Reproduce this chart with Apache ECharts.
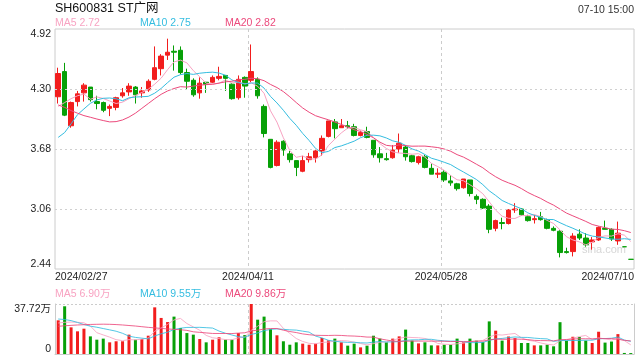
<!DOCTYPE html>
<html><head><meta charset="utf-8">
<script src="https://cdn.jsdelivr.net/npm/echarts@6/dist/echarts.min.js"></script>
<style>html,body{margin:0;padding:0;background:#fff}#c{width:640px;height:360px}</style>
</head><body><div id="c"></div>
<script>
const dates = ['2024/02/27','2024/02/28','2024/02/29','2024/03/01','2024/03/04','2024/03/05','2024/03/06','2024/03/07','2024/03/08','2024/03/11',
'2024/03/12','2024/03/13','2024/03/14','2024/03/15','2024/03/18','2024/03/19','2024/03/20','2024/03/21','2024/03/22','2024/03/25',
'2024/03/26','2024/03/27','2024/03/28','2024/03/29','2024/04/01','2024/04/02','2024/04/03','2024/04/08','2024/04/09','2024/04/10',
'2024/04/11','2024/04/12','2024/04/15','2024/04/16','2024/04/17','2024/04/18','2024/04/19','2024/04/22','2024/04/23','2024/04/24',
'2024/04/25','2024/04/26','2024/04/29','2024/04/30','2024/05/06','2024/05/07','2024/05/08','2024/05/09','2024/05/10','2024/05/13',
'2024/05/14','2024/05/15','2024/05/16','2024/05/17','2024/05/20','2024/05/21','2024/05/22','2024/05/23','2024/05/24','2024/05/27',
'2024/05/28','2024/05/29','2024/05/30','2024/05/31','2024/06/03','2024/06/04','2024/06/05','2024/06/06','2024/06/07','2024/06/11',
'2024/06/12','2024/06/13','2024/06/14','2024/06/17','2024/06/18','2024/06/19','2024/06/20','2024/06/21','2024/06/24','2024/06/25',
'2024/06/26','2024/06/27','2024/06/28','2024/07/01','2024/07/02','2024/07/03','2024/07/04','2024/07/05','2024/07/09','2024/07/10'];

const opens = [4.22,4.48,3.92,4.17,4.26,4.32,4.17,4.16,4.10,4.11, 4.23,4.27,4.32,4.26,4.29,4.40,4.51,4.65,4.69,4.70,
4.47,4.39,4.26,4.37,4.37,4.41,4.44,4.35,4.21,4.42, 4.39,4.40,4.12,3.78,3.51,3.76,3.63,3.56,3.45,3.57,
3.59,3.66,3.81,3.96,3.90,3.92,3.91,3.82,3.86,3.77, 3.63,3.58,3.59,3.68,3.70,3.61,3.54,3.60,3.48,3.42,
3.44,3.35,3.32,3.28,3.36,3.19,3.16,3.09,2.86,2.92, 2.91,3.05,3.06,2.98,2.95,2.98,2.95,2.86,2.83,2.62,
2.62,2.80,2.76,2.72,2.74,2.86,2.85,2.73,2.67,2.54];
const closes = [4.46,4.03,4.16,4.25,4.34,4.19,4.15,4.08,4.12,4.21, 4.26,4.33,4.24,4.28,4.38,4.52,4.64,4.68,4.68,4.47,
4.38,4.24,4.36,4.35,4.42,4.43,4.41,4.20,4.40,4.33, 4.48,4.23,3.84,3.49,3.75,3.67,3.57,3.49,3.56,3.60,
3.66,3.79,3.97,3.89,3.92,3.91,3.82,3.85,3.80,3.62, 3.59,3.57,3.67,3.74,3.60,3.55,3.60,3.49,3.42,3.43,
3.36,3.33,3.27,3.37,3.22,3.16,3.07,2.85,2.94,2.91, 3.05,3.06,3.00,2.94,2.96,2.95,2.86,2.84,2.61,2.61,
2.78,2.76,2.69,2.74,2.87,2.85,2.75,2.81,2.67,2.54];
const lows = [4.15,4.02,3.90,4.12,4.17,4.17,4.09,4.06,4.02,4.08, 4.21,4.23,4.15,4.21,4.27,4.39,4.44,4.60,4.49,4.45,
4.29,4.22,4.20,4.26,4.36,4.39,4.28,4.19,4.19,4.21, 4.37,4.20,3.80,3.48,3.50,3.61,3.54,3.40,3.44,3.54,
3.54,3.61,3.80,3.79,3.90,3.89,3.81,3.81,3.79,3.59, 3.54,3.56,3.58,3.64,3.56,3.54,3.52,3.48,3.42,3.38,
3.34,3.30,3.25,3.27,3.19,3.11,3.06,2.81,2.83,2.85, 2.90,3.02,2.99,2.93,2.91,2.94,2.85,2.83,2.56,2.60,
2.57,2.74,2.67,2.64,2.73,2.85,2.73,2.69,2.67,2.54];
const highs = [4.52,4.57,4.17,4.28,4.36,4.32,4.23,4.17,4.14,4.22, 4.31,4.36,4.33,4.32,4.40,4.74,4.66,4.82,4.75,4.74,
4.51,4.41,4.42,4.37,4.44,4.53,4.44,4.36,4.44,4.43, 4.76,4.42,4.14,3.78,3.77,3.77,3.66,3.56,3.61,3.64,
3.67,3.82,3.97,3.99,3.99,3.97,3.94,3.87,3.91,3.77, 3.70,3.64,3.72,3.84,3.72,3.62,3.61,3.62,3.53,3.48,
3.46,3.41,3.33,3.37,3.36,3.21,3.17,3.11,2.95,2.97, 3.06,3.12,3.07,3.00,3.00,3.03,2.96,2.88,2.84,2.66,
2.81,2.85,2.81,2.77,2.88,2.94,2.86,2.93,2.67,2.54];

const ma5 = [4.12,4.16,4.20,4.23,4.248,4.194,4.218,4.202,4.176,4.150, 4.164,4.200,4.232,4.264,4.298,4.350,4.412,4.500,4.580,4.598,
4.570,4.490,4.426,4.360,4.350,4.360,4.394,4.362,4.372,4.354, 4.364,4.328,4.256,4.074,3.958,3.796,3.664,3.594,3.608,3.578,
3.576,3.620,3.716,3.782,3.846,3.896,3.902,3.878,3.860,3.800, 3.736,3.686,3.650,3.638,3.634,3.626,3.632,3.596,3.532,3.498,
3.460,3.406,3.362,3.352,3.310,3.270,3.218,3.134,3.048,2.986, 2.964,2.962,2.992,2.992,3.002,2.982,2.942,2.910,2.844,2.774,
2.740,2.720,2.690,2.716,2.768,2.782,2.780,2.804,2.790,2.724];
const ma10 = [3.80,3.85,3.94,4.035,4.094,4.152,4.187,4.204,4.207,4.199, 4.179,4.209,4.217,4.220,4.224,4.257,4.306,4.366,4.422,4.448,
4.460,4.451,4.463,4.470,4.474,4.465,4.442,4.394,4.366,4.352, 4.362,4.361,4.309,4.223,4.156,4.080,3.996,3.925,3.841,3.768,
3.686,3.642,3.655,3.695,3.712,3.736,3.761,3.797,3.821,3.823, 3.816,3.794,3.764,3.749,3.717,3.681,3.659,3.623,3.585,3.566,
3.543,3.519,3.479,3.442,3.404,3.365,3.312,3.248,3.200,3.148, 3.117,3.090,3.063,3.020,2.994,2.973,2.952,2.951,2.918,2.888,
2.861,2.831,2.800,2.780,2.771,2.761,2.750,2.747,2.753,2.746];
const ma20 = [4.135,4.11,4.077,4.05,4.025,4.008,3.99,3.974,3.96,3.963, 3.98,4.01,4.05,4.10,4.15,4.20,4.245,4.28,4.305,4.324,
4.320,4.330,4.340,4.345,4.349,4.361,4.374,4.380,4.394,4.400, 4.411,4.406,4.386,4.347,4.315,4.273,4.219,4.160,4.104,4.060,
4.024,4.002,3.982,3.959,3.934,3.908,3.879,3.861,3.831,3.796, 3.751,3.718,3.710,3.722,3.715,3.709,3.710,3.710,3.703,3.695,
3.680,3.657,3.622,3.596,3.561,3.523,3.486,3.436,3.393,3.357, 3.330,3.305,3.271,3.231,3.199,3.169,3.132,3.100,3.059,3.018,
2.989,2.961,2.932,2.900,2.883,2.867,2.851,2.849,2.836,2.817];

// volume in 万
const volumes = [25.4,36.0,20.1,17.1,19.1,13.3,10.8,11.6,8.8,9.6, 9.6,14.6,10.8,11.3,13.8,35.2,27.2,24.1,28.2,19.6,
15.8,14.6,11.3,8.8,10.8,12.6,10.8,10.8,15.8,14.3, 37.72,25.9,28.2,18.9,14.1,9.6,7.0,8.8,7.8,7.0,
7.8,12.1,10.3,11.6,8.8,6.3,7.8,5.0,6.3,13.8, 11.6,8.8,11.6,13.3,18.4,10.1,8.0,8.8,6.5,6.5,
7.0,7.0,11.6,8.8,11.6,10.1,9.1,24.6,17.6,10.1, 13.2,12.0,8.3,8.3,6.5,6.5,7.0,5.8,24.0,10.1,
13.0,12.8,10.1,8.3,16.8,8.6,9.4,15.0,0.8,0.7];
const volMa5 = [23.4,23.9,24.1,23.9,23.54,21.12,16.08,14.38,12.72,10.82, 10.08,10.84,10.68,11.18,12.02,17.14,19.66,22.32,25.70,26.86,
22.98,20.46,17.90,14.02,12.26,11.62,10.86,10.76,12.16,12.86, 17.88,20.90,24.38,25.00,24.96,19.34,15.56,11.68,9.46,8.04,
7.68,8.70,9.00,9.76,10.12,9.82,8.96,7.90,6.84,7.84, 8.90,9.10,10.42,11.82,12.74,12.44,12.28,11.72,10.36,7.98,
7.36,7.16,7.72,8.18,9.20,9.82,10.24,12.84,14.60,14.30, 14.92,15.50,12.24,10.38,9.66,8.32,7.32,6.82,9.96,10.68,
11.98,13.14,14.00,10.86,12.20,11.32,10.64,11.62,10.12,6.90];
const volMa10 = [26.4,26.0,25.2,23.8,22.2,21.0,20.2,19.2,18.2,17.18, 15.60,13.46,12.53,11.95,11.42,13.61,15.25,16.50,18.44,19.44,
20.06,20.06,20.11,19.86,19.56,17.30,15.66,14.33,13.09,12.56, 14.75,15.88,17.57,18.58,18.91,18.61,18.23,18.03,17.23,16.50,
13.51,12.13,10.34,9.61,9.08,8.75,8.83,8.45,8.30,8.98, 9.36,9.03,9.16,9.33,10.29,10.67,10.69,11.07,11.09,10.36,
9.90,9.72,9.72,9.27,8.59,8.59,8.70,10.28,11.39,11.75, 12.37,12.87,12.54,12.49,11.98,11.62,11.41,9.53,10.17,10.17,
10.15,10.23,10.41,10.41,11.44,11.65,11.89,12.81,10.49,9.55];
const volMa20 = [20.9,21.3,21.6,21.9,22.1,22.3,22.4,22.5,22.4,22.2, 21.9,21.5,21.1,20.6,20.1,19.7,19.3,18.9,18.6,18.31,
17.83,16.76,16.32,15.91,15.49,15.46,15.46,15.42,15.77,16.00, 17.41,17.97,18.84,19.22,19.24,17.96,16.95,16.18,15.16,14.53,
14.13,14.01,13.96,14.10,14.00,13.68,13.53,13.24,12.77,12.74, 11.44,10.58,9.75,9.47,9.69,9.71,9.76,9.76,9.70,9.67,
9.63,9.38,9.44,9.30,9.44,9.63,9.70,10.68,11.24,11.06, 11.14,11.30,11.13,10.88,10.29,10.11,10.06,9.91,10.78,10.96,
11.26,11.55,11.48,11.45,11.71,11.64,11.65,11.17,10.33,9.86];

const priceTicks = [2.44, 3.06, 3.68, 4.30, 4.92];
const priceGridLines = [3.06, 3.68, 4.30];
const xTickLabels = ['2024/02/27', '2024/04/11', '2024/05/28', '2024/07/10'];
const volMax = 37.72;
const titleText = 'SH600831 ST广网';
const timeText = '07-10 15:00';

const UP = '#f21d1d', DOWN = '#07a007';
const C5 = '#f8a3c2', C10 = '#35bde0', C20 = '#ec4a7c';
const FONT = '"Liberation Sans", Arial, "Noto Sans CJK SC", sans-serif';
const AX = '#222';
const N = dates.length;
const last = N - 1;

const kData = dates.map((d, i) => [opens[i], closes[i], lows[i], highs[i]]);
function isUp(i) {
  if (closes[i] !== opens[i]) return closes[i] > opens[i];
  return i > 0 ? closes[i] >= closes[i - 1] : true;
}
const volData = volumes.map((v, i) => ({ value: v, itemStyle: { color: isUp(i) ? UP : DOWN } }));

function txt(text, left, top, color, size) {
  return { type: 'text', left: left, top: top, silent: true,
    style: { text: text, fill: color, font: size + 'px ' + FONT } };
}
const f2 = v => v.toFixed(2);

const chart = echarts.init(document.getElementById('c'), null, { renderer: 'canvas' });
const lineS = (name, data, color, xi, yi, opacity) => ({
  name: name, type: 'line', data: data, xAxisIndex: xi, yAxisIndex: yi,
  showSymbol: false, symbol: 'none', smooth: false, silent: true, z: 4,
  lineStyle: { width: 1, color: color, opacity: opacity }
});

chart.setOption({
  animation: false,
  backgroundColor: '#fff',
  textStyle: { fontFamily: FONT },
  graphic: [
    txt(titleText, 55, 2, '#111', 12.5),
    { type: 'text', right: 6, top: 5, silent: true, style: { text: timeText, fill: '#333', font: '10.5px ' + FONT } },
    txt('MA5 ' + f2(ma5[last]), 55, 18, C5, 10.5),
    txt('MA10 ' + f2(ma10[last]), 140, 18, C10, 10.5),
    txt('MA20 ' + f2(ma20[last]), 225, 18, C20, 10.5),
    txt('MA5 ' + f2(volMa5[last]) + '万', 55, 289, C5, 10.5),
    txt('MA10 ' + f2(volMa10[last]) + '万', 140, 289, C10, 10.5),
    txt('MA20 ' + f2(volMa20[last]) + '万', 225, 289, C20, 10.5),
    { type: 'text', left: 582, top: 244, silent: true, z: 0, style: { text: 'sina.com', fill: '#d6d6d6', font: '11px ' + FONT } }
  ],
  grid: [
    { left: 55, top: 29, width: 579, height: 240, show: true, borderColor: '#cccccc', borderWidth: 1, backgroundColor: 'transparent' },
    { left: 55, top: 304, width: 579, height: 50 }
  ],
  xAxis: [
    { type: 'category', data: dates, gridIndex: 0, show: false, boundaryGap: true },
    { type: 'value', gridIndex: 0, min: 0, max: 3, interval: 1, position: 'bottom',
      axisLine: { show: false }, axisTick: { show: false },
      splitLine: { show: true, showMinLine: false, showMaxLine: false, lineStyle: { type: [3, 3], color: '#cccccc', width: 1 } },
      axisLabel: { formatter: v => xTickLabels[Math.round(v)], alignMinLabel: 'left', alignMaxLabel: 'right', fontSize: 10.5, color: AX, margin: 3 } },
    { type: 'category', data: dates, gridIndex: 1, boundaryGap: true,
      axisLine: { show: true, lineStyle: { color: '#cccccc' } }, axisTick: { show: false }, axisLabel: { show: false }, splitLine: { show: false } },
    { type: 'value', gridIndex: 1, min: 0, max: 3, interval: 1, position: 'bottom',
      axisLine: { show: false }, axisTick: { show: false }, axisLabel: { show: false },
      splitLine: { show: true, showMinLine: false, showMaxLine: false, lineStyle: { type: [3, 3], color: '#cccccc', width: 1 } } }
  ],
  yAxis: [
    { type: 'value', gridIndex: 0, min: priceTicks[0], max: priceTicks[priceTicks.length - 1], scale: true,
      axisLine: { show: false }, axisTick: { show: false }, splitLine: { show: false },
      axisLabel: { customValues: priceTicks, formatter: v => f2(v), fontSize: 10.5, color: AX, margin: 4,
        verticalAlignMinLabel: 'bottom', verticalAlignMaxLabel: 'top' } },
    { type: 'value', gridIndex: 1, min: 0, max: volMax, interval: volMax,
      axisLine: { show: true, lineStyle: { color: '#cccccc' } }, axisTick: { show: false },
      splitLine: { show: true, showMinLine: false, lineStyle: { type: [2, 2], color: '#cccccc' } },
      axisLabel: { formatter: v => (v === 0 ? '0' : f2(v) + '万'), fontSize: 10.5, color: AX, margin: 4,
        verticalAlignMinLabel: 'bottom', verticalAlignMaxLabel: 'top' } },
    { type: 'value', gridIndex: 1, position: 'right', min: 0, max: volMax,
      axisLine: { show: true, lineStyle: { color: '#cccccc' } }, axisTick: { show: false },
      axisLabel: { show: false }, splitLine: { show: false } }
  ],
  series: [
    { name: 'grid', type: 'line', data: [], xAxisIndex: 0, yAxisIndex: 0, z: 1, silent: true,
      markLine: { silent: true, symbol: ['none', 'none'], label: { show: false }, animation: false,
        lineStyle: { type: [2, 3], color: '#d0d0d0', width: 1 },
        emphasis: { disabled: true },
        data: priceGridLines.map(v => ({ yAxis: v })) } },
    { name: 'K', type: 'candlestick', data: kData, xAxisIndex: 0, yAxisIndex: 0, barWidth: 5, z: 3, silent: true,
      itemStyle: { color: UP, color0: DOWN, borderColor: UP, borderColor0: DOWN, borderWidth: 1 } },
    lineS('MA5', ma5, C5, 0, 0, 1),
    lineS('MA10', ma10, C10, 0, 0, 1),
    lineS('MA20', ma20, C20, 0, 0, 1),
    { name: 'VOL', type: 'bar', data: volData, xAxisIndex: 2, yAxisIndex: 1, barWidth: 3, z: 3, silent: true },
    lineS('VMA5', volMa5, C5, 2, 1, 0.85),
    lineS('VMA10', volMa10, C10, 2, 1, 0.85),
    lineS('VMA20', volMa20, C20, 2, 1, 0.85)
  ]
});
</script></body></html>
